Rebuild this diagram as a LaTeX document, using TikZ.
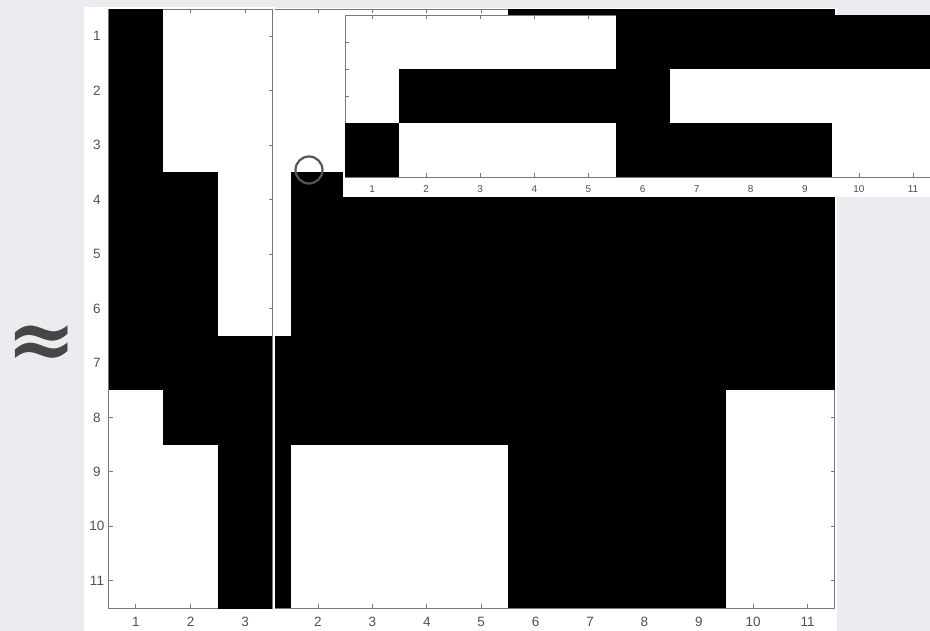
\documentclass[tikz,border=0pt]{standalone}
\usepackage{fontspec}
\setmainfont{Liberation Sans}
\newfontfamily\apxfont{DejaVu Serif}
\definecolor{bggray}{RGB}{236,236,240}
\definecolor{axgray}{RGB}{120,120,120}
\definecolor{lblgray}{RGB}{80,80,80}
\definecolor{markgray}{RGB}{85,85,85}
\definecolor{apxgray}{RGB}{70,70,70}
\tikzset{
  blk/.style={fill=black},
  wbg/.style={fill=white},
  axbox/.style={draw=axgray,line width=0.8pt},
  tk/.style={draw=axgray,line width=0.7pt},
  lbl/.style={text=lblgray,font=\fontsize{13.5}{13.5}\selectfont,inner sep=0pt},
  slbl/.style={text=lblgray,font=\fontsize{10}{10}\selectfont,inner sep=0pt},
  apxstyle/.style={text=apxgray,font=\apxfont\bfseries\fontsize{84}{84}\selectfont,inner sep=0pt},
}
\begin{document}
\begin{tikzpicture}[x=1pt,y=-1pt]
\useasboundingbox (0,0) rectangle (930,631);
\fill[bggray] (0,0) rectangle (930,631);
\begin{scope}
\clip (0,0) rectangle (930,631);

% ---------- right figure (11x11) ----------
\fill[wbg] (272,8) rectangle (837,631);
\foreach \k in {1,...,11}{
  \draw[tk] ({236.4+54.4*(\k-0.5)},607.95) -- ++(0,-4);
  \draw[tk] ({236.4+54.4*(\k-0.5)},9) -- ++(0,4);
  \draw[tk] (834.8,{9+54.45*(\k-0.5)}) -- ++(-4,0);
}
\draw[axbox] (236.4,9) rectangle (834.8,607.95);
\fill[blk] (508.4,9) rectangle (834.8,172.35);
\fill[blk] (290.8,172.35) rectangle (834.8,335.7);
\fill[blk] (236.4,335.7) rectangle (834.8,390.15);
\fill[blk] (236.4,390.15) rectangle (726,444.6);
\fill[blk] (236.4,444.6) rectangle (290.8,607.95);
\fill[blk] (508.4,444.6) rectangle (726,607.95);
\foreach \k in {2,...,11}{
  \node[lbl] (rx\k) at ({236.4+54.4*(\k-0.5)},622) {\k};
}

% ---------- left figure (11x3) ----------
\fill[wbg] (84,7.5) rectangle (274.5,631);
\foreach \k in {1,2,3}{
  \draw[tk] ({108.5+54.67*(\k-0.5)},607.95) -- ++(0,-4);
  \draw[tk] ({108.5+54.67*(\k-0.5)},9) -- ++(0,4);
}
\foreach \k in {1,...,11}{
  \draw[tk] (108.5,{9+54.45*(\k-0.5)}) -- ++(4,0);
  \draw[tk] (272.8,{9+54.45*(\k-0.5)}) -- ++(-4,0);
}
\draw[axbox] (108.5,9) rectangle (272.8,607.95);
\fill[blk] (108.5,9) rectangle (163.17,390.15);
\fill[blk] (163.17,172.35) rectangle (217.83,444.6);
\fill[blk] (217.83,335.7) rectangle (272.3,608.5);
\foreach \k in {1,2,3}{
  \node[lbl] (lx\k) at ({108.5+54.67*(\k-0.5)},622) {\k};
}
\foreach \k in {1,...,11}{
  \node[lbl] (ly\k) at (97,{9+54.45*(\k-0.5)}) {\k};
}

% ---------- inset (3x11) ----------
\fill[wbg] (343,15) rectangle (930,197);
\foreach \k in {1,...,11}{
  \draw[tk] ({345+54.1*(\k-0.5)},15.5) -- ++(0,4);
  \draw[tk] ({345+54.1*(\k-0.5)},177.5) -- ++(0,-4);
}
\foreach \j in {1,...,5}{
  \draw[tk] (345,{15.5+27*\j}) -- ++(3.5,0);
}
\draw[axbox] (345,15.5) rectangle (940,177.5);
\fill[blk] (615.5,15.5) rectangle (940,69.5);
\fill[blk] (399.1,69.5) rectangle (669.6,123.5);
\fill[blk] (345,123.5) rectangle (399.1,177.5);
\fill[blk] (615.5,123.5) rectangle (831.9,177.5);
\foreach \k in {1,...,11}{
  \node[slbl] (ix\k) at ({345+54.1*(\k-0.5)},189) {\k};
}

% ---------- marker circle ----------
\node[circle,draw=markgray,line width=2.2pt,minimum size=27pt,inner sep=0pt] (mark) at (309,170) {};
\end{scope}

% ---------- approx sign ----------
\node[apxstyle] (apxnode) at (42,347) {≈};
\end{tikzpicture}
\end{document}
